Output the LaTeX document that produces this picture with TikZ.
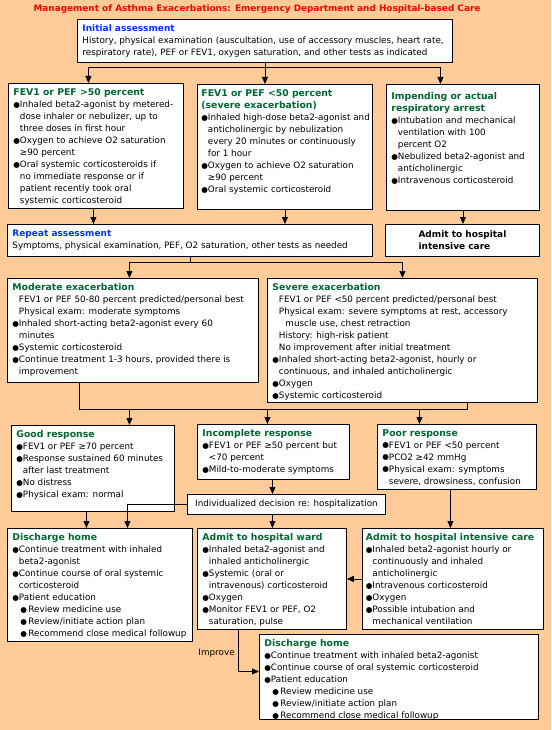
\documentclass[tikz,border=0pt]{standalone}
\usepackage{fontspec}
\setmainfont{DejaVu Sans}
\usetikzlibrary{arrows.meta}
\definecolor{peach}{RGB}{255,204,153}
\definecolor{hdgreen}{RGB}{0,102,51}
\definecolor{hdblue}{RGB}{0,51,255}
\newcommand{\body}{\fontsize{8.8}{12}\selectfont}
\newcommand{\hd}[1]{\mbox{\fontsize{9.3}{12}\selectfont\bfseries\color{hdgreen}#1}}
\newcommand{\hb}[1]{\mbox{\fontsize{9}{12}\selectfont\bfseries\color{hdblue}#1}}
\newcommand{\bl}{\makebox[6.5pt][l]{\fontsize{7.6}{7}\selectfont\raisebox{0.3pt}{●}}}
\newcommand{\sbl}{\hspace*{8pt}\makebox[8pt][l]{\fontsize{7.6}{7}\selectfont\raisebox{0.3pt}{●}}}
\newcommand{\ind}{\hspace*{6.5pt}}
\newcommand{\panel}[3]{\parbox[t][#2][t]{#1}{\raggedright #3}}

\begin{document}
\begin{tikzpicture}[x=1pt,y=-1pt,line width=0.9pt,
    panel/.style={draw,fill=white,anchor=north west,inner xsep=5pt,inner ysep=5pt,font=\body},
    arr/.style={-{Triangle[width=6pt,length=7pt]}}]
    \fill[peach] (0,0) rectangle (551,730);
    \useasboundingbox (0,0) rectangle (551,730);

    \node[font=\fontsize{8.9}{10}\selectfont\bfseries, text=red] (t_0) at (257,9)
        {Management of Asthma Exacerbations: Emergency Department and Hospital-based Care};

    \node[panel] (b_init) at (77,19) {\panel{365pt}{33pt}{\hb{Initial assessment}\\
        History, physical examination (auscultation, use of accessory muscles, heart rate,\\
        respiratory rate), PEF or FEV1, oxygen saturation, and other tests as indicated}};

    \node[panel] (b_high) at (8,83) {\panel{165pt}{115pt}{\hd{FEV1 or PEF >50 percent}\\
        \bl Inhaled beta2-agonist by metered-\\
        \ind dose inhaler or nebulizer, up to\\
        \ind three doses in first hour\\
        \bl Oxygen to achieve O2 saturation\\
        \ind ≥90 percent\\
        \bl Oral systemic corticosteroids if\\
        \ind no immediate response or if\\
        \ind patient recently took oral\\
        \ind systemic corticosteroid}};
    \node[panel, inner xsep=4pt] (b_low) at (197,84) {\panel{167pt}{115pt}{\hd{FEV1 or PEF <50 percent}\\
        \hd{(severe exacerbation)}\\
        \bl \mbox{Inhaled high-dose beta2-agonist and}\\
        \ind anticholinergic by nebulization\\
        \ind every 20 minutes or continuously\\
        \ind for 1 hour\\
        \bl Oxygen to achieve O2 saturation\\
        \ind ≥90 percent\\
        \bl Oral systemic corticosteroid}};
    \node[panel] (b_arrest) at (386,84) {\panel{143pt}{116pt}{\vspace*{3pt}\hd{Impending or actual}\\
        \hd{respiratory arrest}\\
        \bl Intubation and mechanical\\
        \ind ventilation with 100\\
        \ind percent O2\\
        \bl Nebulized beta2-agonist and\\
        \ind anticholinergic\\
        \bl Intravenous corticosteroid}};

    \node[panel] (b_repeat) at (7,224) {\panel{355pt}{22pt}{\hb{Repeat assessment}\\
        Symptoms, physical examination, PEF, O2 saturation, other tests as needed}};
    \node[panel, minimum width=154pt, minimum height=32pt, align=left, font=\fontsize{9}{12}\selectfont\bfseries]
        (b_icu) at (385,224) {Admit to hospital\\intensive care};

    \node[panel] (b_mod) at (7,278) {\panel{241pt}{94pt}{\hd{Moderate exacerbation}\\
        \ind FEV1 or PEF 50-80 percent predicted/personal best\\
        \ind Physical exam: moderate symptoms\\
        \bl Inhaled short-acting beta2-agonist every 60\\
        \ind minutes\\
        \bl Systemic corticosteroid\\
        \bl Continue treatment 1-3 hours, provided there is\\
        \ind improvement}};
    \node[panel] (b_sev) at (267,278) {\panel{260pt}{114pt}{\hd{Severe exacerbation}\\
        \ind FEV1 or PEF <50 percent predicted/personal best\\
        \ind Physical exam: severe symptoms at rest, accessory\\
        \ind\ind muscle use, chest retraction\\
        \ind History: high-risk patient\\
        \ind No improvement after initial treatment\\
        \bl Inhaled short-acting beta2-agonist, hourly or\\
        \ind continuous, and inhaled anticholinergic\\
        \bl Oxygen\\
        \bl Systemic corticosteroid}};

    \node[panel] (b_good) at (11,425) {\panel{153pt}{76pt}{\hd{Good response}\\
        \bl FEV1 or PEF ≥70 percent\\
        \bl Response sustained 60 minutes\\
        \ind after last treatment\\
        \bl No distress\\
        \bl Physical exam: normal}};
    \node[panel] (b_inc) at (197,424) {\panel{142pt}{45pt}{\hd{Incomplete response}\\
        \bl FEV1 or PEF ≥50 percent but\\
        \ind <70 percent\\
        \bl Mild-to-moderate symptoms}};
    \node[panel] (b_poor) at (377,424) {\panel{149pt}{55pt}{\hd{Poor response}\\
        \bl FEV1 or PEF <50 percent\\
        \bl PCO2 ≥42 mmHg\\
        \bl Physical exam: symptoms\\
        \ind severe, drowsiness, confusion}};
    \node[panel, minimum width=198pt, minimum height=20pt, inner ysep=2pt] (b_dec) at (187,494)
        {Individualized decision re: hospitalization};

    \node[panel] (b_home) at (7,528) {\panel{175pt}{103pt}{\hd{Discharge home}\\
        \bl Continue treatment with inhaled\\
        \ind beta2-agonist\\
        \bl Continue course of oral systemic\\
        \ind corticosteroid\\
        \bl Patient education\\
        \sbl Review medicine use\\
        \sbl Review/initiate action plan\\
        \sbl Recommend close medical followup}};
    \node[panel] (b_ward) at (197,528) {\panel{139pt}{91pt}{\hd{Admit to hospital ward}\\
        \bl Inhaled beta2-agonist and\\
        \ind inhaled anticholinergic\\
        \bl Systemic (oral or\\
        \ind intravenous) corticosteroid\\
        \bl Oxygen\\
        \bl Monitor FEV1 or PEF, O2\\
        \ind saturation, pulse}};
    \node[panel, inner xsep=3.5pt] (b_icu2) at (362,528) {\panel{174pt}{91pt}{\hd{Admit to hospital intensive care}\\
        \bl Inhaled beta2-agonist hourly or\\
        \ind continuously and inhaled\\
        \ind anticholinergic\\
        \bl Intravenous corticosteroid\\
        \bl Oxygen\\
        \bl Possible intubation and\\
        \ind mechanical ventilation}};
    \node[panel] (b_home2) at (259,634) {\panel{269pt}{75pt}{\hd{Discharge home}\\
        \bl Continue treatment with inhaled beta2-agonist\\
        \bl Continue course of oral systemic corticosteroid\\
        \bl Patient education\\
        \sbl Review medicine use\\
        \sbl Review/initiate action plan\\
        \sbl Recommend close medical followup}};

    \draw (b_init.south) -- ++(0,5) coordinate (f_1);
    \draw[arr] (f_1) -| ([xshift=-7.5pt]b_high.north);
    \draw[arr] (f_1) -- (f_1 |- b_low.north);
    \draw[arr] (f_1) -| ([xshift=-22.5pt]b_arrest.north);
    \draw[arr] ([xshift=-2.5pt]b_high.south) -- ([xshift=-2.5pt]b_high.south |- b_repeat.north);
    \draw[arr] (b_low.south) -- (b_low.south |- b_repeat.north);
    \draw[arr] (b_arrest.south) -- (b_arrest.south |- b_icu.north);

    \draw (b_repeat.south) -- ++(0,6) coordinate (f_2);
    \draw[arr] (f_2) -| ([xshift=-3.5pt]b_mod.north);
    \draw[arr] (f_2) -| (b_sev.north);

    \draw ([xshift=-53.5pt]b_mod.south) |- ([xshift=65pt,yshift=-7pt]b_sev.south) -- ([xshift=65pt]b_sev.south);
    \draw[arr] ([xshift=36.5pt,yshift=16pt]b_good.north) -- ([xshift=36.5pt]b_good.north);
    \draw[arr] ([xshift=-6pt,yshift=15pt]b_inc.north) -- ([xshift=-6pt]b_inc.north);
    \draw[arr] ([xshift=-37.5pt,yshift=15pt]b_poor.north) -- ([xshift=-37.5pt]b_poor.north);

    \draw[arr] ([xshift=-1pt]b_inc.south) -- ([xshift=-1pt]b_inc.south |- b_dec.north);
    \draw[arr] (b_dec.west) -| ([xshift=27.5pt]b_home.north);
    \draw[arr] ([xshift=-6.5pt]b_good.south) -- ([xshift=-6.5pt]b_good.south |- b_home.north);
    \draw[arr] ([xshift=-14pt]b_dec.south) -- ([xshift=-14pt]b_dec.south |- b_ward.north);
    \draw[arr] ([xshift=-6.5pt]b_poor.south) -- ([xshift=-6.5pt]b_poor.south |- b_icu2.north);
    \draw[arr] (b_icu2.west) -- (b_icu2.west -| b_ward.east);
    \draw[arr] ([xshift=-33.5pt]b_ward.south) |- node[pos=0.285, left, font=\body] {Improve}
        ([yshift=5.5pt]b_home2.west);
\end{tikzpicture}
\end{document}
